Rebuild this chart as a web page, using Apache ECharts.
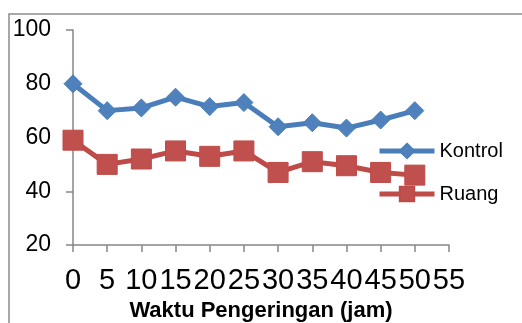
<!DOCTYPE html>
<html>
<head>
<meta charset="utf-8">
<script src="https://cdn.jsdelivr.net/npm/echarts@6/dist/echarts.min.js"></script>
<style>
  html, body { margin: 0; padding: 0; background: #fff; }
  #chart { width: 522px; height: 323px; }
</style>
</head>
<body>
<div id="chart"></div>
<script>
// Drying time (hours) on the x axis
var categories = ['0', '5', '10', '15', '20', '25', '30', '35', '40', '45', '50', '55'];
// Moisture readings per treatment
var kontrol = [80, 70, 71, 75, 71.5, 73, 64, 65.5, 63.5, 66.5, 70];
var ruang = [59, 50, 52, 55, 53, 55, 47, 51, 49.5, 47, 46];
var seriesNames = ['Kontrol', 'Ruang'];
var yTicks = { min: 20, max: 100, interval: 20 };
var xTitle = 'Waktu Pengeringan (jam)';

var font = '"Liberation Sans", Arial, sans-serif';
var axisGray = '#868686';

var chart = echarts.init(document.getElementById('chart'), null, { renderer: 'canvas' });
chart.setOption({
  animation: false,
  backgroundColor: '#ffffff',
  graphic: [{
    type: 'rect',
    shape: { x: 9, y: 14, width: 600, height: 400 },
    style: { fill: 'none', stroke: '#8c8c8c', lineWidth: 1.5 },
    silent: true,
    z: -10
  }],
  grid: { left: 73, right: 73, top: 30, bottom: 78, containLabel: false, outerBoundsMode: 'none' },
  legend: {
    orient: 'vertical',
    left: 377,
    top: 141,
    padding: 0,
    itemWidth: 55,
    itemHeight: 18,
    itemGap: 23,
    lineStyle: { width: 5 },
    textStyle: { fontFamily: font, fontSize: 20, color: '#000' },
    data: seriesNames
  },
  xAxis: {
    type: 'category',
    data: categories,
    boundaryGap: false,
    name: xTitle,
    nameLocation: 'middle',
    nameGap: 52,
    nameTextStyle: { fontFamily: font, fontSize: 22, fontWeight: 'bold', color: '#000' },
    axisLine: { lineStyle: { color: axisGray, width: 1.5 } },
    axisTick: { show: true, inside: false, length: 7, interval: 0, lineStyle: { color: axisGray, width: 1.5 } },
    axisLabel: { interval: 0, margin: 21, fontFamily: font, fontSize: 29, color: '#000' },
    splitLine: { show: false }
  },
  yAxis: {
    type: 'value',
    min: yTicks.min,
    max: yTicks.max,
    interval: yTicks.interval,
    axisLine: { show: true, lineStyle: { color: axisGray, width: 1.5 } },
    axisTick: { show: true, inside: false, length: 7, lineStyle: { color: axisGray, width: 1.5 } },
    axisLabel: { margin: 22, fontFamily: font, fontSize: 23, color: '#000' },
    splitLine: { show: false }
  },
  series: [
    {
      name: seriesNames[0],
      type: 'line',
      data: kontrol,
      symbol: 'diamond',
      symbolSize: 18,
      lineStyle: { color: '#4a7ebb', width: 5 },
      itemStyle: { color: '#4f81bd', borderColor: '#4a7ebb', borderWidth: 1 }
    },
    {
      name: seriesNames[1],
      type: 'line',
      data: ruang,
      symbol: 'rect',
      symbolSize: 20,
      lineStyle: { color: '#be4b48', width: 5 },
      itemStyle: { color: '#c0504d', borderColor: '#be4b48', borderWidth: 1 }
    }
  ]
});
</script>
</body>
</html>
